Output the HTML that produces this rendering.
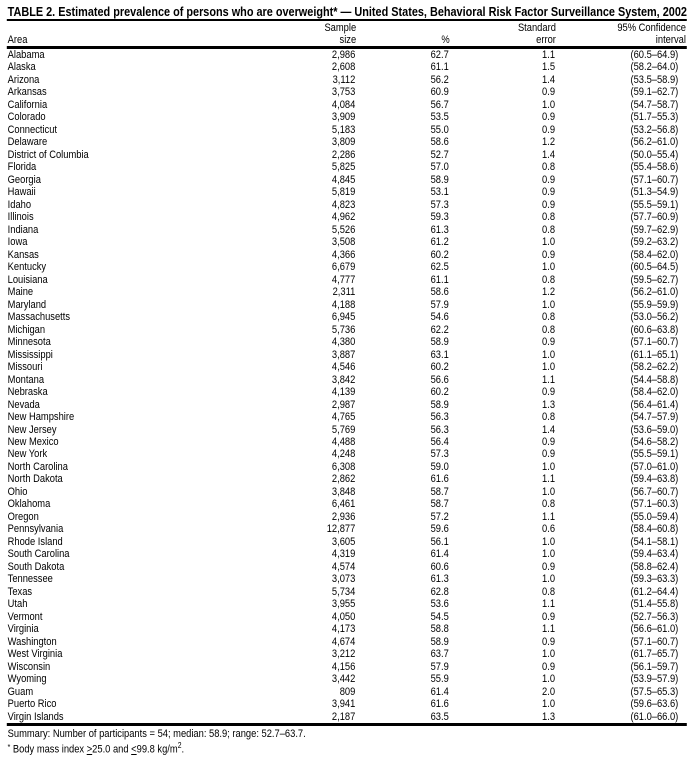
<!DOCTYPE html>
<html><head><meta charset="utf-8"><style>
html,body{margin:0;padding:0;background:#fff;}
body{width:695px;height:760px;overflow:hidden;position:relative;font-family:"Liberation Sans",Arial,sans-serif;color:#000;}
#w{position:absolute;left:0;top:0;width:818px;height:760px;transform:scaleX(0.85);transform-origin:0 0;}
.t{position:absolute;left:9px;top:4px;font-size:12.8px;font-weight:bold;white-space:nowrap;}
.r{position:absolute;left:9px;width:800px;height:12.5px;font-size:11px;line-height:12.5px;white-space:nowrap;}
.r span{position:absolute;text-align:right;}
.a{left:0;}
.c1{right:391px;}.c2{right:281px;}.c3{right:156px;}.c4{right:11px;}
.h{position:absolute;font-size:11px;line-height:12px;text-align:right;}
.rule{position:absolute;left:8px;width:800px;background:#000;}
</style></head><body><div id="w">
<div class="t">TABLE 2. Estimated prevalence of persons who are overweight* — United States, Behavioral Risk Factor Surveillance System, 2002</div>
<div class="rule" style="top:19px;height:2px"></div>
<div class="h" style="left:9px;top:34px;text-align:left">Area</div>
<div class="h" style="right:399px;top:22px">Sample<br>size</div>
<div class="h" style="right:289px;top:34px">%</div>
<div class="h" style="right:164px;top:22px">Standard<br>error</div>
<div class="h" style="right:11px;top:22px">95% Confidence<br>interval</div>
<div class="rule" style="top:46px;height:3px"></div>
<div id="rows"></div>
<div class="rule" style="top:723px;height:3px"></div>
<div class="r" style="top:728px">Summary: Number of participants = 54; median: 58.9; range: 52.7–63.7.</div>
<div class="r" style="top:740px"><span style="font-size:8px;position:relative;top:-3px">*</span> Body mass index <u>&gt;</u>25.0 and <u>&lt;</u>99.8 kg/m<sup style="font-size:8px">2</sup>.</div>
</div>
<script>
var d=`Alabama|2,986|62.7|1.1|(60.5–64.9)
Alaska|2,608|61.1|1.5|(58.2–64.0)
Arizona|3,112|56.2|1.4|(53.5–58.9)
Arkansas|3,753|60.9|0.9|(59.1–62.7)
California|4,084|56.7|1.0|(54.7–58.7)
Colorado|3,909|53.5|0.9|(51.7–55.3)
Connecticut|5,183|55.0|0.9|(53.2–56.8)
Delaware|3,809|58.6|1.2|(56.2–61.0)
District of Columbia|2,286|52.7|1.4|(50.0–55.4)
Florida|5,825|57.0|0.8|(55.4–58.6)
Georgia|4,845|58.9|0.9|(57.1–60.7)
Hawaii|5,819|53.1|0.9|(51.3–54.9)
Idaho|4,823|57.3|0.9|(55.5–59.1)
Illinois|4,962|59.3|0.8|(57.7–60.9)
Indiana|5,526|61.3|0.8|(59.7–62.9)
Iowa|3,508|61.2|1.0|(59.2–63.2)
Kansas|4,366|60.2|0.9|(58.4–62.0)
Kentucky|6,679|62.5|1.0|(60.5–64.5)
Louisiana|4,777|61.1|0.8|(59.5–62.7)
Maine|2,311|58.6|1.2|(56.2–61.0)
Maryland|4,188|57.9|1.0|(55.9–59.9)
Massachusetts|6,945|54.6|0.8|(53.0–56.2)
Michigan|5,736|62.2|0.8|(60.6–63.8)
Minnesota|4,380|58.9|0.9|(57.1–60.7)
Mississippi|3,887|63.1|1.0|(61.1–65.1)
Missouri|4,546|60.2|1.0|(58.2–62.2)
Montana|3,842|56.6|1.1|(54.4–58.8)
Nebraska|4,139|60.2|0.9|(58.4–62.0)
Nevada|2,987|58.9|1.3|(56.4–61.4)
New Hampshire|4,765|56.3|0.8|(54.7–57.9)
New Jersey|5,769|56.3|1.4|(53.6–59.0)
New Mexico|4,488|56.4|0.9|(54.6–58.2)
New York|4,248|57.3|0.9|(55.5–59.1)
North Carolina|6,308|59.0|1.0|(57.0–61.0)
North Dakota|2,862|61.6|1.1|(59.4–63.8)
Ohio|3,848|58.7|1.0|(56.7–60.7)
Oklahoma|6,461|58.7|0.8|(57.1–60.3)
Oregon|2,936|57.2|1.1|(55.0–59.4)
Pennsylvania|12,877|59.6|0.6|(58.4–60.8)
Rhode Island|3,605|56.1|1.0|(54.1–58.1)
South Carolina|4,319|61.4|1.0|(59.4–63.4)
South Dakota|4,574|60.6|0.9|(58.8–62.4)
Tennessee|3,073|61.3|1.0|(59.3–63.3)
Texas|5,734|62.8|0.8|(61.2–64.4)
Utah|3,955|53.6|1.1|(51.4–55.8)
Vermont|4,050|54.5|0.9|(52.7–56.3)
Virginia|4,173|58.8|1.1|(56.6–61.0)
Washington|4,674|58.9|0.9|(57.1–60.7)
West Virginia|3,212|63.7|1.0|(61.7–65.7)
Wisconsin|4,156|57.9|0.9|(56.1–59.7)
Wyoming|3,442|55.9|1.0|(53.9–57.9)
Guam|809|61.4|2.0|(57.5–65.3)
Puerto Rico|3,941|61.6|1.0|(59.6–63.6)
Virgin Islands|2,187|63.5|1.3|(61.0–66.0)`.split('\n');
var h='';d.forEach(function(l,i){var p=l.split('|');
h+='<div class="r" style="top:'+(48.8+12.49*i).toFixed(2)+'px"><span class="a">'+p[0]+'</span><span class="c1">'+p[1]+'</span><span class="c2">'+p[2]+'</span><span class="c3">'+p[3]+'</span><span class="c4">'+p[4]+'</span></div>';});
document.getElementById('rows').innerHTML=h;
</script>
</body></html>
